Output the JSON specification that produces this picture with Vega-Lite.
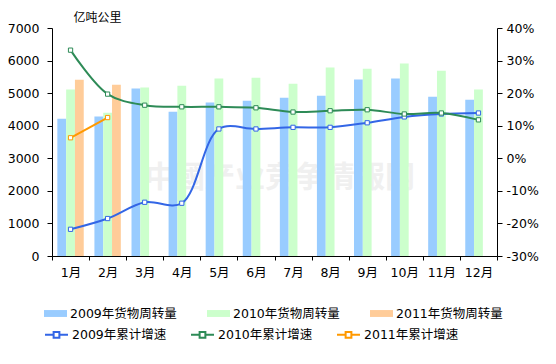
{
  "$schema": "https://vega.github.io/schema/vega-lite/v6.json",
  "width": 445,
  "height": 228,
  "autosize": {"type": "none"},
  "padding": {"left": 52, "top": 28, "right": 59, "bottom": 108},
  "background": "white",
  "config": {
    "view": {"stroke": null},
    "font": "DejaVu Sans, Noto Sans CJK SC",
    "axis": {
      "domainColor": "black",
      "tickColor": "black",
      "labelColor": "black",
      "grid": false,
      "labelFont": "DejaVu Sans, Noto Sans CJK SC",
      "labelFontSize": 12.5,
      "domainWidth": 1,
      "tickWidth": 1,
      "labelOverlap": false
    },
    "legend": {
      "labelFont": "DejaVu Sans, Noto Sans CJK SC",
      "labelFontSize": 12.5,
      "labelColor": "black",
      "labelLimit": 300
    }
  },
  "datasets": {
    "bars": [
      {"month": "1月", "series": "2009年货物周转量", "value": 4210},
      {"month": "2月", "series": "2009年货物周转量", "value": 4280},
      {"month": "3月", "series": "2009年货物周转量", "value": 5140},
      {"month": "4月", "series": "2009年货物周转量", "value": 4430},
      {"month": "5月", "series": "2009年货物周转量", "value": 4710},
      {"month": "6月", "series": "2009年货物周转量", "value": 4770},
      {"month": "7月", "series": "2009年货物周转量", "value": 4860},
      {"month": "8月", "series": "2009年货物周转量", "value": 4920},
      {"month": "9月", "series": "2009年货物周转量", "value": 5420},
      {"month": "10月", "series": "2009年货物周转量", "value": 5450},
      {"month": "11月", "series": "2009年货物周转量", "value": 4890},
      {"month": "12月", "series": "2009年货物周转量", "value": 4800},
      {"month": "1月", "series": "2010年货物周转量", "value": 5110},
      {"month": "2月", "series": "2010年货物周转量", "value": 4400},
      {"month": "3月", "series": "2010年货物周转量", "value": 5170},
      {"month": "4月", "series": "2010年货物周转量", "value": 5230},
      {"month": "5月", "series": "2010年货物周转量", "value": 5450},
      {"month": "6月", "series": "2010年货物周转量", "value": 5470},
      {"month": "7月", "series": "2010年货物周转量", "value": 5290},
      {"month": "8月", "series": "2010年货物周转量", "value": 5790},
      {"month": "9月", "series": "2010年货物周转量", "value": 5750},
      {"month": "10月", "series": "2010年货物周转量", "value": 5910},
      {"month": "11月", "series": "2010年货物周转量", "value": 5690},
      {"month": "12月", "series": "2010年货物周转量", "value": 5110},
      {"month": "1月", "series": "2011年货物周转量", "value": 5410},
      {"month": "2月", "series": "2011年货物周转量", "value": 5260}
    ],
    "rates": [
      {"month": "1月", "series": "2009年累计增速", "rate": -21.8},
      {"month": "2月", "series": "2009年累计增速", "rate": -18.5},
      {"month": "3月", "series": "2009年累计增速", "rate": -13.5},
      {"month": "4月", "series": "2009年累计增速", "rate": -13.8},
      {"month": "5月", "series": "2009年累计增速", "rate": 9.0},
      {"month": "6月", "series": "2009年累计增速", "rate": 9.0},
      {"month": "7月", "series": "2009年累计增速", "rate": 9.5},
      {"month": "8月", "series": "2009年累计增速", "rate": 9.5},
      {"month": "9月", "series": "2009年累计增速", "rate": 10.9},
      {"month": "10月", "series": "2009年累计增速", "rate": 12.7},
      {"month": "11月", "series": "2009年累计增速", "rate": 13.6},
      {"month": "12月", "series": "2009年累计增速", "rate": 13.9},
      {"month": "1月", "series": "2010年累计增速", "rate": 33.2},
      {"month": "2月", "series": "2010年累计增速", "rate": 19.7},
      {"month": "3月", "series": "2010年累计增速", "rate": 16.3},
      {"month": "4月", "series": "2010年累计增速", "rate": 15.8},
      {"month": "5月", "series": "2010年累计增速", "rate": 15.8},
      {"month": "6月", "series": "2010年累计增速", "rate": 15.5},
      {"month": "7月", "series": "2010年累计增速", "rate": 14.2},
      {"month": "8月", "series": "2010年累计增速", "rate": 14.6},
      {"month": "9月", "series": "2010年累计增速", "rate": 14.9},
      {"month": "10月", "series": "2010年累计增速", "rate": 13.6},
      {"month": "11月", "series": "2010年累计增速", "rate": 13.9},
      {"month": "12月", "series": "2010年累计增速", "rate": 11.8},
      {"month": "1月", "series": "2011年累计增速", "rate": 6.3},
      {"month": "2月", "series": "2011年累计增速", "rate": 12.5}
    ],
    "wm": [{"t": "中國产业竞争情報网"}]
  },
  "encoding": {
    "x": {
      "field": "month",
      "type": "nominal",
      "scale": {
        "domain": ["1月", "2月", "3月", "4月", "5月", "6月", "7月", "8月", "9月", "10月", "11月", "12月"],
        "paddingInner": 0,
        "paddingOuter": 0
      },
      "axis": {
        "title": null,
        "labelAngle": 0,
        "tickBand": "extent",
        "tickSize": 4,
        "labelPadding": 6,
        "labelFont": "DejaVu Sans, Noto Sans CJK SC",
        "labelFontSize": 12.5
      }
    }
  },
  "layer": [
    {
      "encoding": {
        "y": {
          "type": "quantitative",
          "scale": {"domain": [0, 7000]},
          "axis": {
            "title": "亿吨公里",
            "values": [0, 1000, 2000, 3000, 4000, 5000, 6000, 7000],
            "format": "d",
            "tickSize": 5,
            "labelPadding": 8,
            "titleAngle": 0,
            "titleX": 45,
            "titleY": -11,
            "titleAlign": "center",
            "titleBaseline": "middle",
            "titleFont": "Noto Sans CJK SC",
            "titleFontSize": 12,
            "titleFontWeight": "normal",
            "titleColor": "black"
          }
        }
      },
      "layer": [
        {
          "data": {"name": "wm"},
          "mark": {"type": "text", "fontSize": 30, "font": "Noto Sans CJK SC", "fontWeight": "bold", "color": "#f0f0f0", "align": "center", "baseline": "middle"},
          "encoding": {
            "x": {"datum": "7月", "bandPosition": 0.15},
            "y": {"datum": 2400, "type": "quantitative"},
            "text": {"field": "t"}
          }
        },
        {
          "data": {"name": "bars"},
          "mark": {"type": "bar"},
          "encoding": {
            "xOffset": {
              "field": "series",
              "scale": {"domain": ["2009年货物周转量", "2010年货物周转量", "2011年货物周转量"], "paddingInner": 0, "paddingOuter": 0.607}
            },
            "y": {"field": "value", "type": "quantitative"},
            "fill": {
              "field": "series",
              "type": "nominal",
              "scale": {"domain": ["2009年货物周转量", "2010年货物周转量", "2011年货物周转量"], "range": ["#99CCFF", "#CCFFCC", "#FFCC99"]},
              "legend": {
                "orient": "none",
                "legendX": -8,
                "legendY": 274,
                "direction": "horizontal",
                "columns": 3,
                "columnPadding": 30,
                "title": null,
                "symbolType": "M-1,-0.3H1V0.3H-1Z",
                "symbolSize": 529,
                "symbolStrokeWidth": 0,
                "labelOffset": 3
              }
            }
          }
        }
      ]
    },
    {
      "data": {"name": "rates"},
      "encoding": {
        "y": {
          "field": "rate",
          "type": "quantitative",
          "scale": {"domain": [-30, 40]},
          "axis": {
            "orient": "right",
            "title": null,
            "values": [-30, -20, -10, 0, 10, 20, 30, 40],
            "labelExpr": "datum.value + '%'",
            "tickSize": 5,
            "labelPadding": 4
          }
        },
        "stroke": {
          "field": "series",
          "type": "nominal",
          "scale": {"domain": ["2009年累计增速", "2010年累计增速", "2011年累计增速"], "range": ["#3366E6", "#2E8B57", "#FF9900"]},
          "legend": {
            "orient": "none",
            "legendX": -8,
            "legendY": 294,
            "direction": "horizontal",
            "columns": 3,
            "columnPadding": 20,
            "title": null,
            "symbolType": "M-1,0H-0.25M0.25,0H1M-0.25,-0.25H0.25V0.25H-0.25Z",
            "symbolSize": 529,
            "symbolStrokeWidth": 2,
            "symbolFillColor": "white",
            "labelOffset": 3
          }
        }
      },
      "layer": [
        {"mark": {"type": "line", "interpolate": "catmull-rom", "strokeWidth": 2}},
        {"mark": {"type": "point", "shape": "square", "filled": true, "fill": "white", "size": 18, "strokeWidth": 1, "opacity": 1}}
      ]
    }
  ],
  "resolve": {"scale": {"y": "independent"}}
}
